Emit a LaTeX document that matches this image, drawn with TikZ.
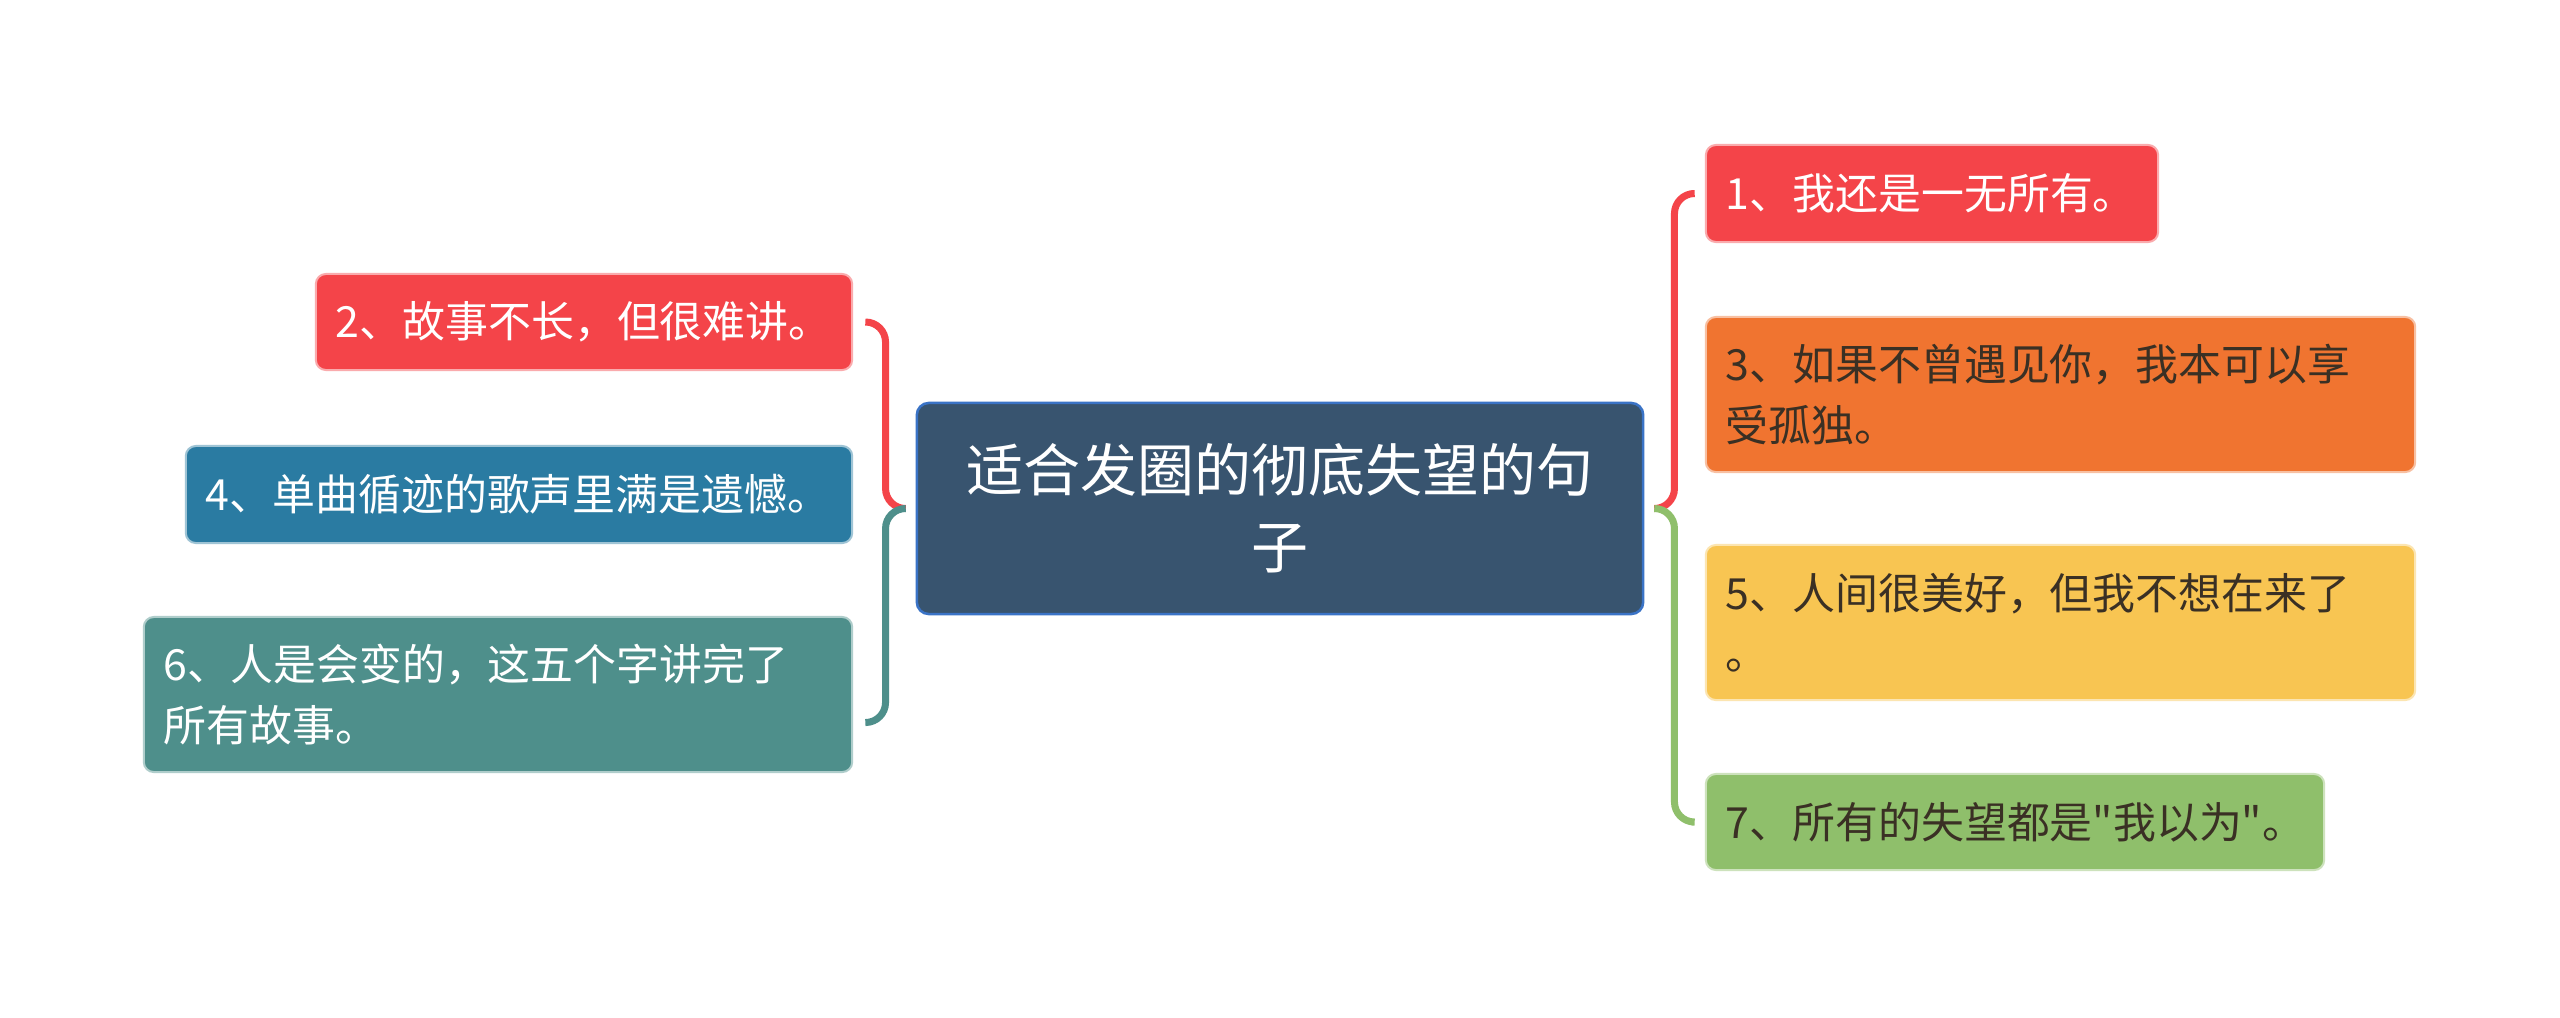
\documentclass[tikz,border=0pt]{standalone}
\usepackage{fontspec}
\setmainfont{Noto Sans CJK SC}
\newfontfamily\cjkplain{Noto Sans CJK SC}
\usetikzlibrary{calc}
\definecolor{cRed}{HTML}{F44449}
\definecolor{cOrange}{HTML}{F07430}
\definecolor{cYellow}{HTML}{F8C552}
\definecolor{cGreen}{HTML}{8FBF6B}
\definecolor{cBlue}{HTML}{2A7BA2}
\definecolor{cTeal}{HTML}{4E8F8B}
\definecolor{cCenter}{HTML}{38546F}
\definecolor{cCenterBorder}{HTML}{3A73C6}
\definecolor{cDark}{HTML}{3A3024}
\tikzset{
  leaf/.style={rectangle, rounded corners=0.1cm, fill=#1, draw=#1!45!white, line width=0.02cm,
    inner xsep=0.2cm, inner ysep=0pt, align=left,
    font=\cjkplain\fontsize{12.2pt}{17.1pt}\selectfont},
  rootbox/.style={rectangle, rounded corners=0.12cm, fill=cCenter, draw=cCenterBorder, line width=0.025cm,
    inner sep=0pt, align=center, text=white,
    font=\cjkplain\fontsize{16.2pt}{21.9pt}\selectfont},
  link/.style={line width=0.07cm, rounded corners=0.2cm, line cap=round}
}
\begin{document}
\begin{tikzpicture}[x=0.01cm, y=-0.01cm]
\useasboundingbox[fill=white] (0,0) rectangle (2560,1017);

% centre
\node[rootbox, minimum width=7.26cm, minimum height=2.11cm, text width=7.0cm] (c) at (1280,508.5)
  {适合发圈的彻底失望的句\\子};

% right side
\node[leaf=cRed, text=white, minimum width=4.52cm, minimum height=0.97cm, text width=4.12cm] (n1) at (1932,193.5)
  {1、我还是一无所有。};
\node[leaf=cOrange, text=cDark, minimum width=7.09cm, minimum height=1.55cm, text width=6.69cm] (n3) at (2060.5,394.5)
  {3、如果不曾遇见你，我本可以享\\受孤独。};
\node[leaf=cYellow, text=cDark, minimum width=7.09cm, minimum height=1.55cm, text width=6.69cm] (n5) at (2060.5,622.5)
  {5、人间很美好，但我不想在来了\\。};
\node[leaf=cGreen, text=cDark, minimum width=6.18cm, minimum height=0.96cm, text width=5.78cm] (n7) at (2015,822)
  {7、所有的失望都是"我以为"。};

% left side
\node[leaf=cRed, text=white, minimum width=5.36cm, minimum height=0.96cm, text width=4.96cm] (n2) at (584,322)
  {2、故事不长，但很难讲。};
\node[leaf=cBlue, text=white, minimum width=6.66cm, minimum height=0.97cm, text width=6.26cm] (n4) at (519,494.5)
  {4、单曲循迹的歌声里满是遗憾。};
\node[leaf=cTeal, text=white, minimum width=7.08cm, minimum height=1.55cm, text width=6.68cm] (n6) at (498,694.5)
  {6、人是会变的，这五个字讲完了\\所有故事。};

% junctions
\coordinate (jl) at ($(c.west)+(-10,0)$);
\coordinate (jr) at ($(c.east)+(10,0)$);

% connectors
\draw[link, draw=cRed]   (jl) -- ++(-20,0) |- ($(n2.east)+(13,0)$);
\draw[link, draw=cTeal]  (jl) -- ++(-20,0) |- ($(n6.east)+(13,28)$);
\draw[link, draw=cRed]   (jr) -- ++(20,0) |- ($(n1.west)+(-13,0)$);
\draw[link, draw=cGreen] (jr) -- ++(20,0) |- ($(n7.west)+(-13,0)$);
\end{tikzpicture}
\end{document}
